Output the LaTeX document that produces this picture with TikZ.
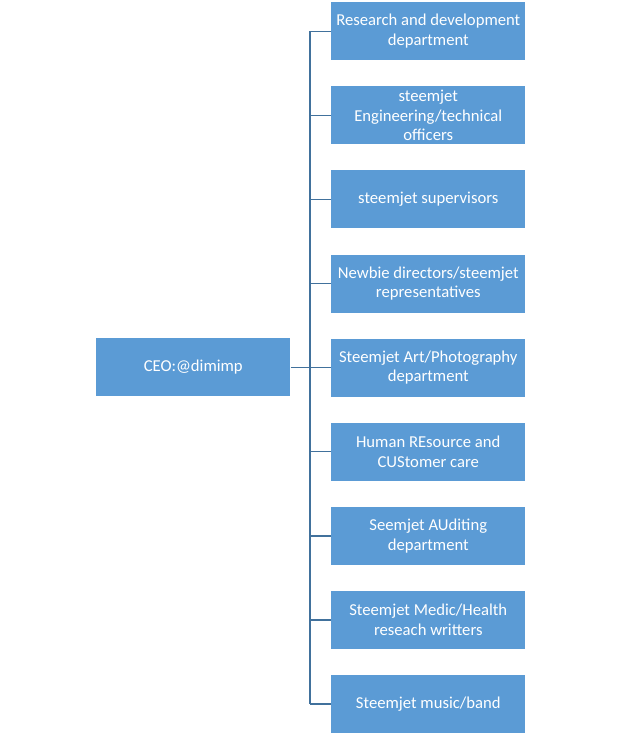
\documentclass[tikz,border=0pt]{standalone}
\usepackage{fontspec}
\setmainfont{Carlito}
\definecolor{boxfill}{HTML}{5B9BD5}
\definecolor{linec}{HTML}{41719C}
\begin{document}
\begin{tikzpicture}[x=0.75pt,y=-0.75pt,
  dept/.style={fill=boxfill,draw=none,text=white,minimum width=145.5pt,minimum height=43.5pt,
    align=center,inner sep=0pt,font=\fontsize{12.5}{14.8}\selectfont},
  conn/.style={draw=linec,line width=1pt}]
\useasboundingbox (0,0) rectangle (620,734);
\node[dept,anchor=north west] (ceo) at (96,338) {CEO:@dimimp};
\foreach \i/\t in {0/{Research and development\\department},
  1/{steemjet\\Engineering/technical\\officers},
  2/{steemjet supervisors},
  3/{Newbie directors/steemjet\\representatives},
  4/{Steemjet Art/Photography\\department},
  5/{Human REsource and\\CUStomer care},
  6/{Seemjet AUditing\\department},
  7/{Steemjet Medic/Health\\reseach writters},
  8/{Steemjet music/band}}{
  \node[dept,anchor=north west] (d\i) at (331,{2+84.1*\i}) {\t};
}
\coordinate (bus) at (310,0);
\draw[conn] (ceo.east) -- (ceo.east -| bus);
\foreach \i in {0,...,8}{
  \draw[conn] (d\i.west) -- (d\i.west -| bus);
}
\draw[conn] (d0.west -| bus) -- (d8.west -| bus);
\end{tikzpicture}
\end{document}
